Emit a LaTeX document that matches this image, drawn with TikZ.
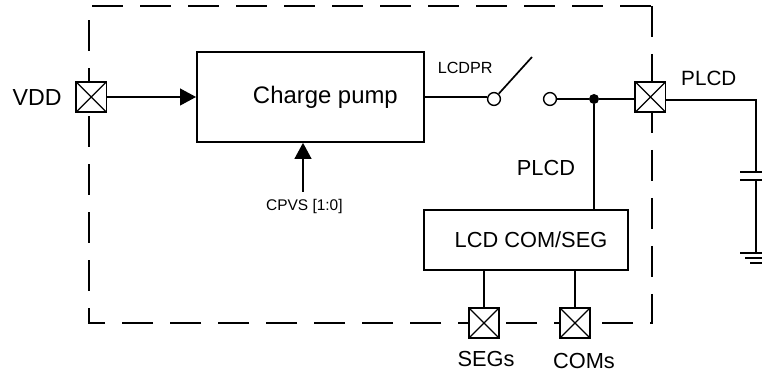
\documentclass[tikz,border=0pt]{standalone}
\usepackage{fontspec}
\setmainfont{Liberation Sans}
\usetikzlibrary{arrows.meta}
\tikzset{
  block/.style    = {draw, line width=1.2pt, inner sep=0pt},
  pad/.style      = {draw, fill=white, line width=1.1pt, minimum size=0.76cm,
                     inner sep=0pt, path picture={
                       \draw[line width=0.9pt]
                         (path picture bounding box.north west) --
                         (path picture bounding box.south east)
                         (path picture bounding box.north east) --
                         (path picture bounding box.south west);}},
  wire/.style     = {line width=1.2pt},
  flow/.style     = {wire, -{Triangle[length=4mm,width=4.2mm]}},
  frameline/.style= {line width=1.1pt, dash pattern=on 0.775cm off 0.425cm},
  contact/.style  = {circle, draw, fill=white, line width=1.0pt, minimum size=0.32cm,
                     inner sep=0pt},
  junction/.style = {circle, fill=black, minimum size=0.25cm, inner sep=0pt},
  lbl/.style      = {font=\fontsize{15.5}{18}\selectfont, inner sep=0pt},
  lblb/.style     = {font=\fontsize{17}{20}\selectfont, inner sep=0pt},
  lblp/.style     = {font=\fontsize{14.7}{18}\selectfont, inner sep=0pt},
  lbls/.style     = {font=\fontsize{11}{13}\selectfont, inner sep=0pt},
}
\begin{document}
\begin{tikzpicture}
  \useasboundingbox (0,0) rectangle (19.05,9.3);

  % outline of the chip
  \draw[frameline] (2.3,9.15) -- (16.3,9.15);
  \draw[frameline] (16.3,9.15) -- (16.3,1.225) -- (2.225,1.225) -- (2.225,9.125);

  \node[block, minimum width=5.675cm, minimum height=2.25cm, lblb] (pump) at (7.76,6.875)
      {\hspace*{0.75cm}\raisebox{-0.05cm}{Charge pump}};
  \node[block, minimum width=5.1cm, minimum height=1.5cm, lbl] (driver) at (13.15,3.3)
      {\hspace*{0.25cm}LCD COM/SEG};

  \node[pad] (vddpad) at (2.28,6.875) {};
  \node[pad] (plcdpad) at (16.26,6.875) {};
  \node[pad] (segpad) at (12.1,1.225) {};
  \node[pad] (compad) at (14.375,1.225) {};

  \node[contact] (swa) at (12.35,6.825) {};
  \node[contact] (swb) at (13.75,6.825) {};
  \node[junction] (tap) at (14.85,6.825) {};
  \coordinate (blade) at (13.3,7.875);
  \coordinate (cpvs) at (7.575,4.5);

  % capacitor and ground at the right edge
  \coordinate (corner) at (18.9,6.8);
  \coordinate (platea) at (18.9,5);
  \coordinate (plateb) at (18.9,4.8);
  \coordinate (gnd) at (18.9,2.975);

  \draw[flow] (vddpad) -- (pump.west);
  \draw[flow] (cpvs) -- (cpvs |- pump.south);
  \draw[wire] (pump.east) -- (pump.east -| swa.west);
  \draw[wire] (swa) -- (blade);
  \draw[wire] (swb) -- (tap) -- (tap -| plcdpad.west);
  \draw[wire] (tap) -- (tap |- driver.north);
  \draw[wire] (segpad |- driver.south) -- (segpad.north);
  \draw[wire] (compad |- driver.south) -- (compad.north);
  \draw[wire] (corner -| plcdpad.east) -- (corner) -- (platea);
  \draw[wire] (plateb) -- (gnd);
  \draw[wire] (18.5,5) -- (19.05,5) (18.5,4.8) -- (19.05,4.8);
  \draw[wire] (18.5,2.975) -- (19.05,2.975) (18.63,2.85) -- (19.05,2.85) (18.75,2.725) -- (19.05,2.725);

  \node[lblb, font=\fontsize{16.5}{20}\selectfont] (vddlbl) at (0.93,6.85) {VDD};
  \node[lblp] (plcdout) at (17.72,7.35) {PLCD};
  \node[lbl] (plcdin) at (13.65,5.1) {PLCD};
  \node[lbl] (seglbl) at (12.15,0.33) {SEGs};
  \node[lbl] (comlbl) at (14.6,0.28) {COMs};
  \node[lbls, font=\fontsize{11.5}{13}\selectfont] (swlbl) at (11.63,7.6) {LCDPR};
  \node[lbls] (cpvslbl) at (7.61,4.14) {CPVS [1:0]};
\end{tikzpicture}
\end{document}
